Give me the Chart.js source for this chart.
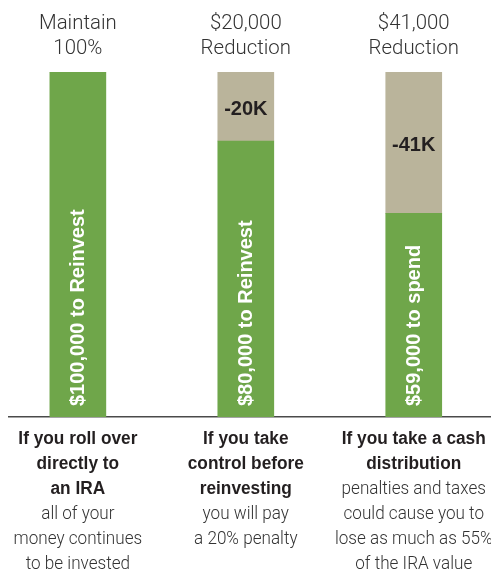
<!DOCTYPE html>
<html>
<head>
<meta charset="utf-8">
<script src="https://cdn.jsdelivr.net/npm/chart.js@4"></script>
<style>
  html, body { margin: 0; padding: 0; background: #fff; }
  #wrap { width: 491px; height: 572px; position: relative; }
</style>
</head>
<body>
<div id="wrap"><canvas id="rollChart"></canvas></div>
<script>
// values in dollars, one entry per option
const categories = ['Roll over to IRA', 'Take control', 'Cash distribution'];
const keptValues = [100000, 80000, 59000];
const reductionValues = [0, 20000, 41000];
const headerLines = [['Maintain', '100%'], ['$20,000', 'Reduction'], ['$41,000', 'Reduction']];
const barLabels = ['$100,000 to Reinvest', '$80,000 to Reinvest', '$59,000 to spend'];
const reductionLabels = ['', '-20K', '-41K'];
const boldLines = [
  ['If you roll over', 'directly to', 'an IRA'],
  ['If you take', 'control before', 'reinvesting'],
  ['If you take a cash', 'distribution']
];
const noteLines = [
  ['all of your', 'money continues', 'to be invested'],
  ['you will pay', 'a 20% penalty'],
  ['penalties and taxes', 'could cause you to', 'lose as much as 55%', 'of the IRA value']
];

const GREEN = '#6FA64A';
const TAN = '#BAB49B';

function drawText(ctx, text, x, y, font, color, sx) {
  ctx.save();
  ctx.font = font;
  ctx.fillStyle = color;
  ctx.textAlign = 'center';
  ctx.textBaseline = 'alphabetic';
  ctx.translate(x, y);
  ctx.scale(sx || 1, 1);
  ctx.fillText(text, 0, 0);
  ctx.restore();
}

const textPlugin = {
  id: 'rollText',
  afterDatasetsDraw(chart) {
    const ctx = chart.ctx;
    const area = chart.chartArea;
    const xs = chart.scales.x, ys = chart.scales.y;
    categories.forEach((c, i) => {
      const cx = xs.getPixelForValue(i);

      // header above the bar
      headerLines[i].forEach((t, k) => {
        drawText(ctx, t, cx, area.top - 43 + k * 25, '300 20px Roboto, "Liberation Sans", sans-serif', '#333', 1.02);
      });

      // reduction label inside tan segment
      if (reductionLabels[i]) {
        const yMid = (ys.getPixelForValue(keptValues[i]) + ys.getPixelForValue(keptValues[i] + reductionValues[i])) / 2;
        ctx.save();
        ctx.font = 'bold 20px "Liberation Sans", Arial, sans-serif';
        ctx.fillStyle = '#231F20';
        ctx.textAlign = 'center';
        ctx.textBaseline = 'middle';
        ctx.fillText(reductionLabels[i], cx, yMid + 3);
        ctx.restore();
      }

      // vertical label in green bar
      ctx.save();
      ctx.translate(cx + 1, area.bottom - 11);
      ctx.rotate(-Math.PI / 2);
      ctx.font = 'bold 20px "Liberation Sans", Arial, sans-serif';
      ctx.fillStyle = '#fff';
      ctx.textAlign = 'left';
      ctx.textBaseline = 'middle';
      ctx.fillText(barLabels[i], 0, 0);
      ctx.restore();

      // captions below the axis
      let y = area.bottom + 27;
      boldLines[i].forEach(t => {
        drawText(ctx, t, cx, y, 'bold 18px "Liberation Sans", Arial, sans-serif', '#231F20', 0.96);
        y += 25;
      });
      noteLines[i].forEach(t => {
        drawText(ctx, t, cx, y, '300 18px Roboto, "Liberation Sans", sans-serif', '#333', 0.95);
        y += 25;
      });
    });
  }
};

new Chart(document.getElementById('rollChart'), {
  type: 'bar',
  data: {
    datasets: [
      { label: 'Kept', data: keptValues.map((v, i) => ({ x: i, y: v })), backgroundColor: GREEN, barThickness: 56 },
      { label: 'Reduction', data: reductionValues.map((v, i) => ({ x: i, y: v })), backgroundColor: TAN, barThickness: 56 }
    ]
  },
  options: {
    responsive: true,
    maintainAspectRatio: false,
    animation: false,
    layout: { padding: { left: 9, right: 0, top: 72, bottom: 147 } },
    plugins: { legend: { display: false }, tooltip: { enabled: false } },
    scales: {
      x: {
        type: 'linear', min: -0.41, max: 2.46, stacked: true, offset: false,
        grid: { display: false },
        ticks: { display: false },
        border: { display: true, color: '#4A4A4A', width: 1.5 }
      },
      y: { stacked: true, min: 0, max: 100000, display: false }
    }
  },
  plugins: [textPlugin]
});
</script>
</body>
</html>
